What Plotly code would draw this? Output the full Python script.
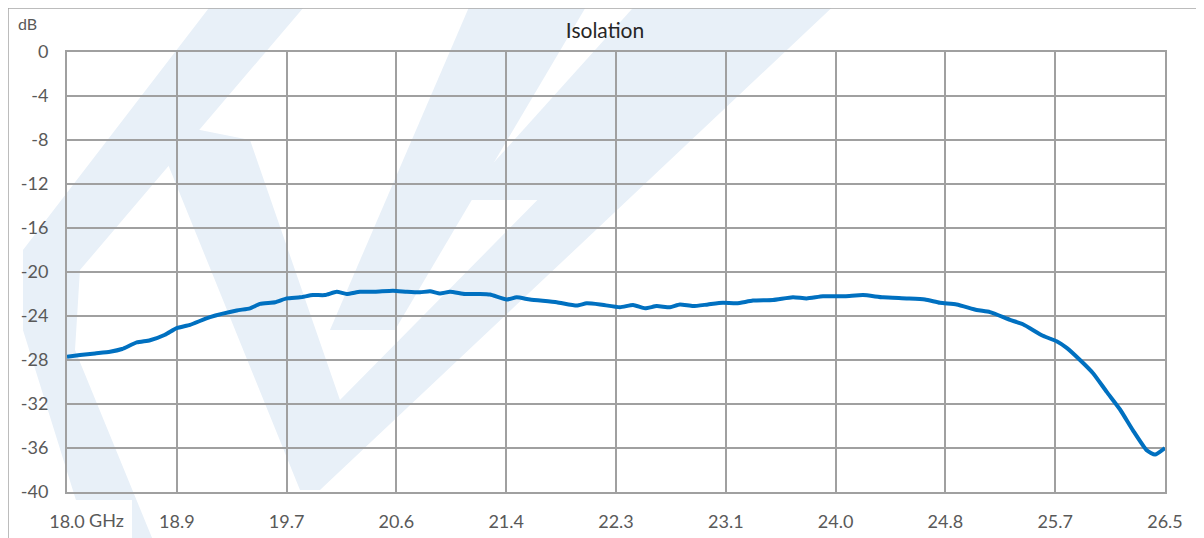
import plotly.graph_objects as go

# ---- data ----
freq_ghz = [18.000, 18.101, 18.217, 18.333, 18.426, 18.540, 18.643, 18.759, 18.849, 18.952,
            19.107, 19.314, 19.417, 19.494, 19.611, 19.701, 19.804, 19.904, 19.997, 20.088,
            20.165, 20.268, 20.384, 20.524, 20.632, 20.733, 20.810, 20.888, 20.965, 21.081,
            21.197, 21.275, 21.404, 21.481, 21.584, 21.791, 21.946, 22.023, 22.126, 22.281,
            22.382, 22.475, 22.565, 22.668, 22.745, 22.846, 22.962, 23.078, 23.184, 23.310,
            23.465, 23.620, 23.726, 23.852, 24.023, 24.162, 24.317, 24.500, 24.642, 24.758,
            24.887, 25.042, 25.145, 25.300, 25.400, 25.555, 25.661, 25.739, 25.842, 25.943,
            26.049, 26.152, 26.252, 26.358, 26.423, 26.500]
isolation_db = [-27.7, -27.55, -27.4, -27.25, -27.0, -26.4, -26.2, -25.7, -25.1, -24.8,
                -24.1, -23.5, -23.3, -22.9, -22.75, -22.4, -22.3, -22.1, -22.1, -21.8,
                -22.0, -21.8, -21.8, -21.7, -21.8, -21.85, -21.75, -21.95, -21.8, -22.0,
                -22.0, -22.05, -22.5, -22.3, -22.5, -22.75, -23.05, -22.85, -22.95, -23.2,
                -23.0, -23.3, -23.1, -23.2, -22.95, -23.1, -22.95, -22.8, -22.85, -22.6,
                -22.55, -22.3, -22.4, -22.2, -22.2, -22.1, -22.3, -22.4, -22.5, -22.8,
                -22.95, -23.45, -23.65, -24.35, -24.75, -25.8, -26.3, -26.9, -28.0, -29.2,
                -30.9, -32.5, -34.4, -36.2, -36.6, -36.0]

x_tick_vals = [18.0, 18.85, 19.7, 20.55, 21.4, 22.25, 23.1, 23.95, 24.8, 25.65, 26.5]
x_tick_text = ["18.0", "18.9", "19.7", "20.6", "21.4", "22.3", "23.1", "24.0", "24.8", "25.7", "26.5"]
y_tick_vals = [0, -4, -8, -12, -16, -20, -24, -28, -32, -36, -40]
y_tick_text = ["0", "-4", "-8", "-12", "-16", "-20", "-24", "-28", "-32", "-36", "-40"]

GRID = "#A0A0A0"
TXT = "#595959"
WM = "#E8F0F8"
FONT = "Lato, 'Open Sans', sans-serif"

# page is shown with an 8px body margin; plot area (page px) = 67..1165 x 52..492
PL, PT, PW, PH = 67, 52, 1098, 440


def pp(x, y):
    """page pixel -> paper coords (relative to plot area)"""
    return (x - PL) / PW, (PT + PH - y) / PH


def path(points):
    s = ""
    for i, (x, y) in enumerate(points):
        px, py = pp(x, y)
        s += ("M" if i == 0 else "L") + f"{px:.4f},{py:.4f} "
    return s + "Z"


# faint background logo (watermark), approximate outline
wm_polys = [
    [(215, 0), (310, 0), (80, 270), (75, 350), (155, 545), (90, 545), (23, 330), (23, 250)],
    [(150, 120), (250, 140), (340, 400), (735, 0), (840, 0), (320, 490), (300, 490)],
    [(472, 0), (590, 0), (395, 330), (330, 330)],
    [(640, 0), (748, 0), (560, 200), (460, 200)],
]

shapes = []
for poly in wm_polys:
    shapes.append(dict(type="path", xref="paper", yref="paper", path=path(poly),
                       fillcolor=WM, line=dict(width=0), layer="below"))
# white box behind the first x label
bx0, by0 = pp(9, 500)
bx1, by1 = pp(132, 545)
shapes.append(dict(type="rect", xref="paper", yref="paper", x0=bx0, x1=bx1, y0=by1, y1=by0,
                   fillcolor="white", line=dict(width=0), layer="below"))
# outer chart border
ox0, oy1 = pp(8, 8)
ox1, oy0 = pp(1199, 560)
shapes.append(dict(type="rect", xref="paper", yref="paper", x0=ox0, x1=ox1, y0=oy0, y1=oy1,
                   line=dict(color="#A6A6A6", width=1.5), fillcolor="rgba(0,0,0,0)", layer="below"))

fig = go.Figure()
fig.add_trace(go.Scatter(
    x=freq_ghz, y=isolation_db, mode="lines",
    line=dict(color="#0070C0", width=4, shape="spline", smoothing=0.5),
    showlegend=False, hoverinfo="x+y",
))

dbx, dby = pp(16, 24)
ghx, ghy = pp(88, 520)

fig.update_layout(
    width=1196, height=530,
    margin=dict(l=59, r=39, t=44, b=46, autoexpand=False),
    paper_bgcolor="white", plot_bgcolor="rgba(0,0,0,0)",
    font=dict(family=FONT, size=18, color=TXT),
    title=dict(text="Isolation", x=0.49, xref="paper", y=1 - 23 / 530, yref="container",
               xanchor="center", yanchor="middle",
               font=dict(family=FONT, size=21, color="#262626")),
    xaxis=dict(range=[18.0, 26.5], tickvals=x_tick_vals, ticktext=x_tick_text,
               showgrid=True, gridcolor=GRID, gridwidth=2,
               showline=True, linecolor=GRID, linewidth=2, mirror=True,
               zeroline=False, ticks="", ticklabelstandoff=12, automargin=False,
               tickfont=dict(size=18, color=TXT)),
    yaxis=dict(range=[-40, 0], tickvals=y_tick_vals, ticktext=y_tick_text,
               showgrid=True, gridcolor=GRID, gridwidth=2,
               showline=True, linecolor=GRID, linewidth=2, mirror=True,
               zeroline=False, ticks="", ticklabelstandoff=13, automargin=False,
               tickfont=dict(size=18, color=TXT)),
    shapes=shapes,
    annotations=[
        dict(text="dB", xref="paper", yref="paper", x=dbx, y=dby,
             xanchor="left", yanchor="middle", showarrow=False,
             font=dict(family=FONT, size=16, color=TXT)),
        dict(text="GHz", xref="paper", yref="paper", x=ghx, y=ghy,
             xanchor="left", yanchor="middle", showarrow=False, bgcolor="white",
             borderpad=0, font=dict(family=FONT, size=18, color=TXT)),
    ],
)

fig.write_html("out.html")
